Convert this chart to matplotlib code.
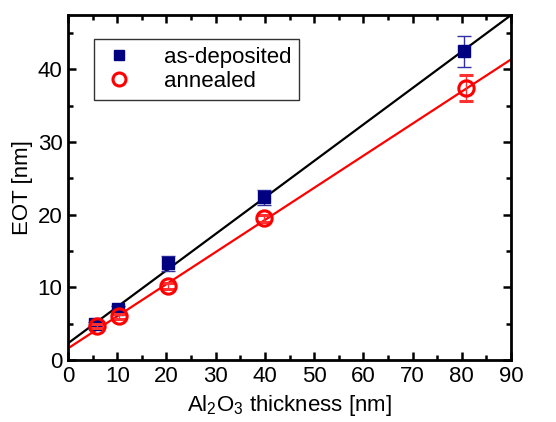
import numpy as np
import matplotlib
matplotlib.use("Agg")
import matplotlib.pyplot as plt
from matplotlib.ticker import MultipleLocator

plt.rcParams['font.family'] = ['Liberation Sans', 'DejaVu Sans']
plt.rcParams['mathtext.fontset'] = 'custom'
plt.rcParams['mathtext.rm'] = 'Liberation Sans'

# data
x_dep = [5.5, 10.2, 20.3, 39.8, 80.5]
y_dep = [4.9, 7.0, 13.3, 22.4, 42.5]
e_dep = [0.4, 0.4, 1.0, 1.0, 2.1]
x_ann = [5.8, 10.3, 20.4, 39.8, 80.8]
y_ann = [4.7, 6.0, 10.2, 19.5, 37.4]
e_ann = [0.3, 0.3, 0.4, 0.5, 1.8]
fit_dep = [0.502, 2.3]   # slope, intercept
fit_ann = [0.442, 1.6]

fig = plt.figure(figsize=(5.56, 4.22), dpi=100)
ax = fig.add_axes([68/556, 1 - 360/422, (511-68)/556, (360-15)/422])

xx = np.linspace(0, 90, 200)
ax.plot(xx, fit_dep[0]*xx + fit_dep[1], color='black', lw=1.6, zorder=2)
ax.plot(xx, fit_ann[0]*xx + fit_ann[1], color='#ff0000', lw=1.6, zorder=2)

ax.errorbar(x_dep, y_dep, yerr=e_dep, fmt='s', color='#000080', ms=8,
            ecolor='#3030a0', elinewidth=1, capsize=5, capthick=1,
            label='as-deposited', zorder=3)
ax.errorbar(x_ann, y_ann, yerr=e_ann, fmt='o', mfc='none', mec='#ff0000', mew=2.2,
            ms=11, ecolor='#ff3030', elinewidth=1, capsize=5, capthick=1,
            label='annealed', zorder=4)

ax.set_xlim(0, 90)
ax.set_ylim(0, 47.5)
ax.xaxis.set_major_locator(MultipleLocator(10))
ax.xaxis.set_minor_locator(MultipleLocator(5))
ax.yaxis.set_major_locator(MultipleLocator(10))
ax.yaxis.set_minor_locator(MultipleLocator(5))
ax.tick_params(which='both', direction='in', top=True, right=True, width=1.8,
               labelsize=16)
ax.tick_params(which='major', length=6, pad=4)
ax.tick_params(which='minor', length=3.5)
for s in ax.spines.values():
    s.set_linewidth(2)

ax.set_xlabel(r'Al$_2$O$_3$ thickness [nm]', fontsize=16, labelpad=5)
ax.set_ylabel('EOT [nm]', fontsize=16, labelpad=3)

handles, labels = ax.get_legend_handles_labels()
handles = [h[0] for h in handles]
leg = ax.legend(handles, labels, loc='upper left', bbox_to_anchor=(0.058, 0.93),
                fontsize=16, frameon=True, fancybox=False, edgecolor='black',
                handlelength=1.6, handletextpad=1.2, borderpad=0.35,
                labelspacing=0.15, markerscale=0.85, borderaxespad=0)
leg.get_frame().set_linewidth(1)

fig.savefig('out.png', dpi=100)
